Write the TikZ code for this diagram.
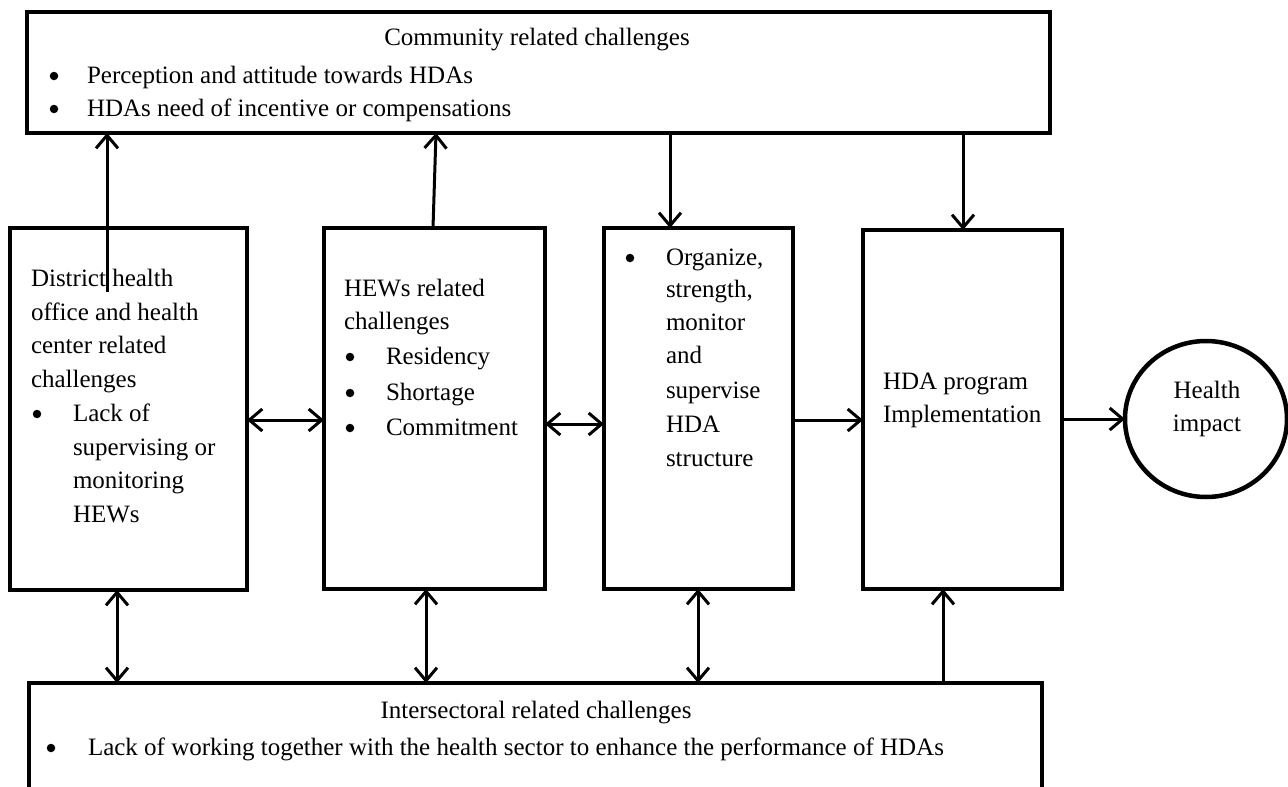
\documentclass[tikz,border=0pt]{standalone}
\usepackage{fontspec}
\setmainfont{Liberation Serif}
\usetikzlibrary{arrows.meta,shapes.geometric}
\begin{document}
\begin{tikzpicture}[x=1pt,y=-1pt,
  box/.style={draw, line width=4.5pt, rectangle, inner sep=0pt, outer sep=0pt},
  txt/.style={inner sep=0pt, outer sep=0pt, anchor=base west, font=\fontsize{25pt}{30pt}\selectfont},
  ctxt/.style={txt, anchor=base},
  bul/.style={circle, fill=black, inner sep=0pt, outer sep=0pt, minimum size=8.5pt},
  arr/.style={line width=3pt, -{Straight Barb[length=13pt,width=22pt]}},
  darr/.style={line width=3pt, {Straight Barb[length=13pt,width=22pt]}-{Straight Barb[length=13pt,width=22pt]}}]
\useasboundingbox (0,0) rectangle (1288,787);
\clip (0,0) rectangle (1288,787);
\fill[white] (0,0) rectangle (1288,787);

% boxes
\node[box, minimum width=1023pt, minimum height=121pt] (T) at (538.5,72.5) {};
\node[box, minimum width=237pt, minimum height=362pt] (A) at (128.5,409) {};
\node[box, minimum width=221pt, minimum height=361pt] (B) at (434.5,408.5) {};
\node[box, minimum width=189pt, minimum height=361pt] (C) at (698.5,408.5) {};
\node[box, minimum width=199pt, minimum height=359pt] (D) at (962.5,409.5) {};
\node[draw, ellipse, line width=4.5pt, inner sep=0pt, outer sep=0pt, minimum width=162pt, minimum height=156pt] (E) at (1206,419) {};
\node[box, minimum width=1013pt, minimum height=124pt] (S) at (535.5,745) {};

% top box text
\node[ctxt] (t0) at (537,45) {Community related challenges};
\node[bul] (tb1) at (54,76) {};
\node[txt] (t1) at (87,83) {Perception and attitude towards HDAs};
\node[bul] (tb2) at (54,109) {};
\node[txt] (t2) at (87,116) {HDAs need of incentive or compensations};

% box A text
\node[txt] (a1) at (31,286) {District health};
\node[txt] (a2) at (31,320) {office and health};
\node[txt] (a3) at (31,353) {center related};
\node[txt] (a4) at (31,387) {challenges};
\node[bul] (ab) at (37,414) {};
\node[txt] (a5) at (73,421) {Lack of};
\node[txt] (a6) at (73,455) {supervising or};
\node[txt] (a7) at (73,488) {monitoring};
\node[txt] (a8) at (73,522) {HEWs};

% box B text
\node[txt] (b1) at (344,296) {HEWs related};
\node[txt] (b2) at (344,329) {challenges};
\node[bul] (bb1) at (350,357) {};
\node[txt] (b3) at (386,364) {Residency};
\node[bul] (bb2) at (350,393) {};
\node[txt] (b4) at (386,400) {Shortage};
\node[bul] (bb3) at (350,428) {};
\node[txt] (b5) at (386,435) {Commitment};

% box C text
\node[bul] (cb) at (630,258) {};
\node[txt] (c1) at (666,265) {Organize,};
\node[txt] (c2) at (666,297) {strength,};
\node[txt] (c3) at (666,330) {monitor};
\node[txt] (c4) at (666,363) {and};
\node[txt] (c5) at (666,398) {supervise};
\node[txt] (c6) at (666,432) {HDA};
\node[txt] (c7) at (666,466) {structure};

% box D text
\node[txt] (d1) at (883,389) {HDA program};
\node[txt] (d2) at (883,422) {Implementation};

% circle text
\node[ctxt] (e1) at (1207,398) {Health};
\node[ctxt] (e2) at (1207,431) {impact};

% bottom box text
\node[ctxt] (s0) at (536,718) {Intersectoral related challenges};
\node[bul] (sb) at (51,748) {};
\node[txt] (s1) at (88,755) {Lack of working together with the health sector to enhance the performance of HDAs};

% helper coordinates
\coordinate (ua) at (107,292);
\coordinate (xc) at (670,0);
\coordinate (xd) at (963,0);
\coordinate (y1) at (0,420);
\coordinate (y2) at (0,424);
\coordinate (xb1) at (117,0);
\coordinate (xb2) at (426,0);
\coordinate (xb3) at (698,0);
\coordinate (xb4) at (943,0);

% top connectors
\draw[arr] (ua) -- (ua |- T.south);
\draw[arr] ([xshift=-1.5pt]B.north) -- ([xshift=-102.5pt]T.south);
\draw[arr] (xc |- T.south) -- (xc |- C.north);
\draw[arr] (xd |- T.south) -- (xd |- D.north);

% horizontal connectors
\draw[darr] (A.east |- y1) -- (B.west |- y1);
\draw[darr] (B.east |- y2) -- (C.west |- y2);
\draw[arr] (C.east |- y1) -- (D.west |- y1);
\draw[arr] (D.east |- E.west) -- (E.west);

% bottom connectors
\draw[darr] (xb1 |- A.south) -- (xb1 |- S.north);
\draw[darr] (xb2 |- B.south) -- (xb2 |- S.north);
\draw[darr] (xb3 |- C.south) -- (xb3 |- S.north);
\draw[arr] (xb4 |- S.north) -- (xb4 |- D.south);
\end{tikzpicture}
\end{document}
